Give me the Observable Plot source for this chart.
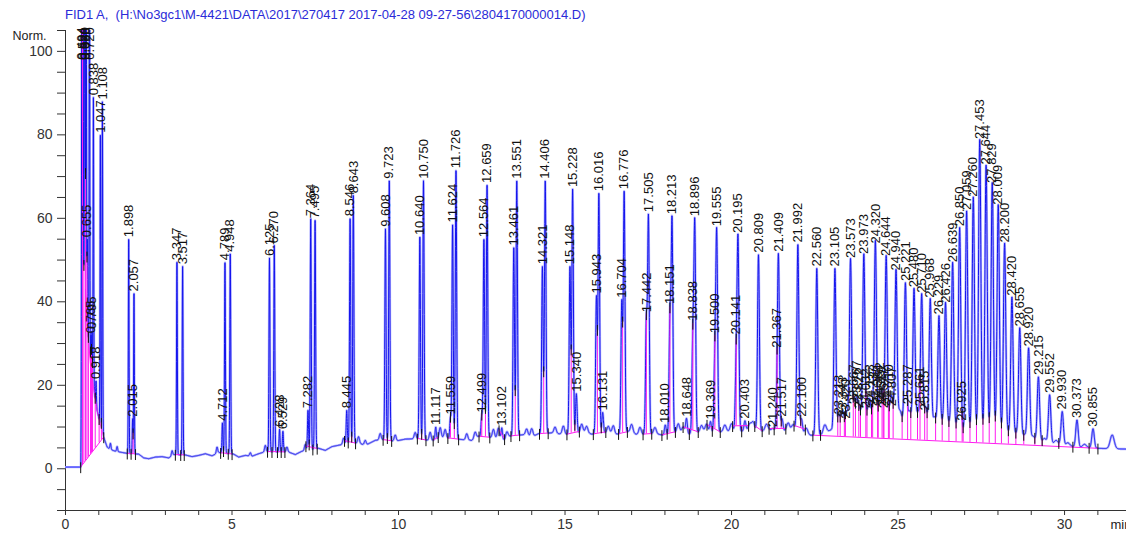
<!DOCTYPE html>
<html>
<head>
<meta charset="utf-8">
<script src="https://cdn.jsdelivr.net/npm/d3@7"></script>
<script src="https://cdn.jsdelivr.net/npm/@observablehq/plot@0.6"></script>
<style>
  html, body { margin: 0; padding: 0; background: #fff; }
  body { width: 1126px; height: 538px; overflow: hidden; position: relative;
         font-family: "Liberation Sans", Arial, sans-serif; }
  #title { position: absolute; left: 65px; top: 7px; font-size: 13px; color: #2b2bd8; white-space: pre; }
  #chart { position: absolute; left: 0; top: 22px; }
</style>
</head>
<body>
<div id="title">FID1 A,  (H:\No3gc1\M-4421\DATA\2017\270417 2017-04-28 09-27-56\2804170000014.D)</div>
<div id="chart"></div>
<script>
// Integrated peaks: retention time (min, as printed) and apex signal (Norm.)
const retentionTimes = [
  "0.494","0.524","0.580","0.620","0.655","0.720","0.765","0.795","0.838","0.918","1.047","1.108",
  "1.898","2.015","2.057","3.347","3.517","4.712","4.789","4.948",
  "6.125","6.270","6.428","6.529","7.282","7.364","7.495","8.445","8.546","8.643",
  "9.608","9.723","10.640","10.750","11.117","11.559","11.624","11.726",
  "12.499","12.564","12.659","13.102","13.461","13.551","14.321","14.406",
  "15.148","15.228","15.340","15.943","16.016","16.131","16.704","16.776",
  "17.442","17.505","18.010","18.151","18.213","18.648","18.838","18.896",
  "19.369","19.500","19.555","20.141","20.195","20.403","20.809",
  "21.240","21.367","21.409","21.517","21.992","22.100","22.560",
  "23.105","23.213","23.343","23.420","23.573","23.667","23.767","23.822","23.973",
  "24.032","24.153","24.237","24.320","24.384","24.452","24.519","24.577","24.644",
  "24.710","24.807","24.940","25.221","25.287","25.480","25.661","25.710","25.815","25.968",
  "26.229","26.426","26.639","26.850","26.925","27.059","27.260","27.453","27.644","27.829",
  "28.009","28.200","28.420","28.655","28.920","29.215","29.552","29.930","30.373","30.855"
];
const peakHeights = [
  180, 150, 200, 140, 55, 125, 32, 33, 89, 21, 80, 88,
  55, 12, 42, 49.5, 48.5, 11, 49.5, 51.5,
  50.5, 53.5, 9.5, 9, 14, 60, 59.5, 14, 60, 65.5,
  57.5, 69, 55.5, 69, 10, 12.5, 58.5, 71.5,
  13, 55, 68, 9.8, 53, 69, 48.5, 69,
  48.5, 67, 18, 41.5, 66, 13.5, 40.5, 66.5,
  37, 61, 10.5, 39, 60.5, 12, 35, 60,
  11.3, 32, 57.6, 31.7, 56, 11.5, 51.3,
  9.5, 28.5, 51.5, 12, 53.7, 12, 48,
  48, 12.5, 12, 11.5, 50, 15, 16, 14, 51,
  14, 15, 14.5, 53.5, 15, 15.5, 14.5, 14, 50.5,
  15, 14.5, 47, 44.5, 15, 43, 14.5, 41.7, 13.5, 40.5,
  36.5, 39.3, 49, 57.6, 11, 61.5, 64.7, 78.5, 72.4, 68,
  62.8, 53.7, 41, 33.6, 28.8, 22, 17.7, 13.7, 11.7, 9.6
];

// Detector background under the peaks (solvent tail and drift)
const backgroundTimes = [
  0, 0.46, 0.5, 0.6, 0.65, 0.75, 0.85, 0.95, 1.05, 1.15, 1.25, 1.35, 1.5, 1.7, 1.85,
  2.2, 2.35, 2.5, 2.7, 2.9, 3.1, 3.25, 3.6, 3.8, 4.0, 4.2, 4.4, 4.6, 5.05, 5.2, 5.4,
  5.6, 5.8, 6.0, 6.7, 6.9, 7.1, 7.6, 7.8, 8.0, 8.3, 8.8, 9.0, 9.3, 9.5, 9.9, 10.2,
  10.5, 11.0, 11.3, 11.9, 12.2, 12.4, 12.9, 13.2, 13.3, 13.8, 14.0, 14.2, 14.6, 15.0,
  15.6, 15.8, 16.3, 16.5, 16.9, 17.2, 17.7, 18.0, 18.4, 18.7, 19.1, 19.4, 19.8, 20.1,
  20.5, 20.9, 21.2, 21.7, 22.0, 22.3, 22.7, 23.0, 23.5, 24.0, 24.5, 25.0, 25.5, 26.0,
  26.5, 27.0, 27.5, 28.0, 28.5, 29.0, 29.5, 30.0, 30.5, 31.0, 31.9
];
const backgroundLevels = [
  0.4, 0.4, 48, 43, 35, 25, 19, 14, 10.5, 7.5, 5.2, 4.6, 4.2, 3.9, 3.7,
  3.5, 2.6, 2.4, 2.8, 2.9, 2.6, 3.4, 3.3, 2.9, 3.2, 3.6, 3.1, 3.9, 3.5, 2.8, 3.2,
  3.0, 3.6, 4.1, 4.0, 3.4, 4.2, 4.9, 4.4, 5.3, 5.8, 6.2, 5.6, 6.8, 7.0, 6.6, 7.1,
  7.2, 6.7, 7.5, 7.0, 6.8, 7.8, 7.4, 6.9, 7.8, 8.2, 7.6, 8.4, 8.6, 8.2,
  8.8, 8.3, 8.7, 8.2, 8.9, 8.1, 8.4, 8.0, 8.8, 8.3, 8.9, 8.5, 9.0, 8.7,
  9.3, 9.0, 9.4, 9.0, 9.2, 8.0, 8.1, 9.4, 10.6, 11.2, 11.5, 11.6, 11.2, 10.6,
  9.8, 9.0, 8.6, 8.2, 7.6, 6.9, 6.1, 5.5, 5.1, 4.9, 4.7
];

// Small unlabelled responses (noise spikes and the late eluter)
const minorPeakTimes = [
  1.35, 1.55, 3.2, 4.55, 5.55, 6.0, 6.65, 7.2, 8.35, 8.8, 9.0, 9.45, 9.9, 10.5,
  10.95, 11.25, 11.4, 12.05, 12.3, 12.85, 13.0, 13.25, 13.85, 14.0, 14.7, 14.95,
  15.5, 15.65, 16.3, 16.45, 17.0, 17.25, 17.7, 18.4, 18.55, 19.1, 19.25, 19.8, 20.0,
  20.55, 20.65, 21.05, 21.7, 21.85, 22.25, 22.8, 23.3, 23.47, 23.7, 23.88, 24.1,
  24.27, 24.47, 24.55, 24.76, 24.86, 25.05, 25.35, 25.6, 25.86, 26.1, 26.35, 26.55,
  26.75, 27.15, 27.35, 27.55, 27.75, 27.92, 28.1, 28.3, 28.55, 28.8, 29.05, 29.4,
  29.75, 30.1, 30.6, 31.43
];
const minorPeakHeights = [
  1.5, 1.2, 1.2, 1.5, 0.8, 1.5, 1.2, 1.5, 1.5, 1.5, 1.2, 1.5, 1.5, 1.5,
  2, 2.5, 2, 1.5, 1.5, 2, 2.5, 1.5, 1.5, 2, 1.5, 2,
  2, 1.5, 1.5, 2, 2, 1.8, 1.5, 2, 1.5, 1.5, 2, 1.5, 2,
  1.5, 2, 1.5, 2, 1.5, 1.5, 2, 2.5, 3, 3, 2.5, 3,
  2, 3, 2.5, 3, 2, 2.5, 2.5, 2.5, 2, 2, 1.5, 1.5,
  1.2, 1.2, 1.2, 1.0, 1.0, 1.0, 1.0, 1.0, 1, 1, 1, 1,
  1, 0.8, 0.8, 3.3
];

// Axis ticks
const xTickValues = d3.range(0, 32, 1);
const xTickLabels = [0, 5, 10, 15, 20, 25, 30];
const yTickValues = d3.range(-10, 106, 5);
const yTickLabels = [0, 20, 40, 60, 80, 100];

// ---- build the detector trace ----
const tMax = 31.86;
const step = 0.0025;
const peakWidth = t => 0.009 + 0.0009 * t;   // Gaussian sigma grows with retention time
const bgLevel = d3.scaleLinear().domain(backgroundTimes).range(backgroundLevels).clamp(true);

const peaks = retentionTimes
  .map((label, i) => ({label, t: +label, h: peakHeights[i]}))
  .sort((a, b) => a.t - b.t);

// Peak amplitudes above background, corrected for overlap with neighbours
const gauss = (t, c) => {
  const z = (t - c.t) / c.s;
  return z * z < 40 ? c.a * Math.exp(-0.5 * z * z) : 0;
};
const peakComps = peaks.map(p => ({t: p.t, s: peakWidth(p.t), h: p.h, a: Math.max(p.h - bgLevel(p.t), 0.3)}));
for (let it = 0; it < 10; it++) {
  for (const c of peakComps) {
    let others = 0;
    for (const d of peakComps) if (d !== c) others += gauss(c.t, d);
    c.a = Math.max(c.h - bgLevel(c.t) - others, 0.3);
  }
}
const components = [
  ...peakComps,
  ...minorPeakTimes.map((t, i) => ({t, s: peakWidth(t) * 1.6, a: minorPeakHeights[i]}))
];

const nPts = Math.round(tMax / step);
const trace = [];
for (let k = 0; k <= nPts; k++) {
  const t = k * step;
  let v = bgLevel(t);
  for (const c of components) v += gauss(t, c);
  trace.push({t, v});
}
const idx = t => Math.max(0, Math.min(nPts, Math.round(t / step)));
const traceAt = t => trace[idx(t)].v;

// ---- integration events: baselines, drop lines, event ticks ----
const gapLimit = t => (t < 23 ? 0.3 : 0.6);
const groups = [];
peaks.forEach((p, i) => {
  if (i && p.t - peaks[i - 1].t < gapLimit(p.t)) groups[groups.length - 1].push(p);
  else groups.push([p]);
});

const baselines = [], drops = [], events = [];
for (const g of groups) {
  const first = g[0], last = g[g.length - 1];
  const t0 = first.t - 4 * peakWidth(first.t);
  const t1 = last.t + 4 * peakWidth(last.t);
  const v0 = traceAt(t0), v1 = traceAt(t1);
  baselines.push({t0, v0, t1, v1});
  events.push({t: t0, v: v0}, {t: t1, v: v1});
  const base = t => v0 + (v1 - v0) * (t - t0) / (t1 - t0);
  for (let k = 1; k < g.length; k++) {
    const i0 = idx(g[k - 1].t), i1 = idx(g[k].t);
    let m = i0;
    for (let j = i0; j <= i1; j++) if (trace[j].v < trace[m].v) m = j;
    drops.push({t: trace[m].t, y1: base(trace[m].t), y2: trace[m].v});
    events.push({t: trace[m].t, v: trace[m].v});
  }
}
// tangent skim along the solvent tail
const solventEnd = baselines[0].t1;
const skim = trace.filter(d => d.t >= 0.6 && d.t <= solventEnd).map(d => ({t: d.t, v: bgLevel(d.t)}));

const magenta = "#ff1cf0";

const chart = Plot.plot({
  width: 1126,
  height: 516,
  marginLeft: 65,
  marginRight: 0,
  marginTop: 8,
  marginBottom: 28,
  style: {
    fontFamily: "'Liberation Sans', Arial, sans-serif",
    fontSize: "14px",
    color: "#333",
    background: "white",
    overflow: "visible"
  },
  x: {
    domain: [0, tMax],
    ticks: xTickValues,
    tickFormat: d => (xTickLabels.includes(d) ? String(d) : ""),
    tickSize: 5,
    tickPadding: 4,
    line: true,
    label: null
  },
  y: {
    domain: [-10, 105],
    ticks: yTickValues,
    tickFormat: d => (yTickLabels.includes(d) ? String(d) : ""),
    tickSize: 8,
    tickPadding: 5,
    line: true,
    label: null
  },
  marks: [
    // trace with its soft halo
    Plot.line(trace, {x: "t", y: "v", stroke: "#b8b8ff", strokeWidth: 2.4, clip: true}),
    Plot.line(trace, {x: "t", y: "v", stroke: "#1414ee", strokeWidth: 1, clip: true}),
    // integration baselines and drop lines
    Plot.line(skim, {x: "t", y: "v", stroke: magenta, strokeWidth: 1, clip: true}),
    Plot.link(baselines, {x1: "t0", y1: "v0", x2: "t1", y2: "v1", stroke: magenta, strokeWidth: 1}),
    Plot.ruleX(drops, {x: "t", y1: "y1", y2: "y2", stroke: magenta, strokeWidth: 1, clip: true}),
    Plot.ruleX(events, {x: "t", y1: d => d.v - 1.6, y2: d => d.v + 1.0, stroke: "#111", strokeWidth: 1, clip: true}),
    // retention time labels above each apex
    Plot.text(peaks, {
      x: "t",
      y: d => Math.min(d.h, 97.5),
      text: "label",
      rotate: -90,
      textAnchor: "start",
      dy: -2,
      fontSize: 13,
      fill: "#111"
    }),
    // axis captions
    Plot.text(["Norm."], {frameAnchor: "top-left", textAnchor: "start", lineAnchor: "middle", dx: -53, dy: 5, fontSize: 12.5, fill: "#222"}),
    Plot.text(["min"], {frameAnchor: "bottom-right", textAnchor: "start", lineAnchor: "middle", dx: -16, dy: 14, fontSize: 13, fill: "#222"})
  ]
});
document.getElementById("chart").appendChild(chart);
</script>
</body>
</html>
